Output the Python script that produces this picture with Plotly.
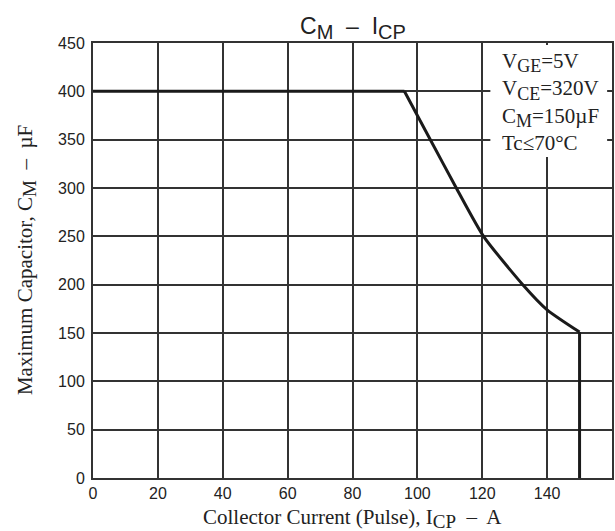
import plotly.graph_objects as go

# Data
curve_x = [0, 96, 104, 112, 120.4, 132.5, 140, 150, 150]
curve_y = [400, 400, 350, 300, 250, 200, 174, 151, 0]

x_ticks = [0, 20, 40, 60, 80, 100, 120, 140, 160]
y_ticks = [0, 50, 100, 150, 200, 250, 300, 350, 400, 450]


def sub(s, px):
    return "<sub><span style='font-size:%dpx'>%s</span></sub>" % (px, s)


title_text = "C" + sub("M", 20) + "  \u2013  I" + sub("CP", 20)
x_title = "Collector Current (Pulse), I" + sub("CP", 19) + "  \u2013  A"
y_title = "Maximum Capacitor, C" + sub("M", 19) + "  \u2013  \u00b5F"
cond_text = ("V" + sub("GE", 18) + "=5V<br>"
             "V" + sub("CE", 18) + "=320V<br>"
             "C" + sub("M", 18) + "=150\u00b5F<br>"
             "Tc\u226470\u00b0C")

GRID = "#333333"
SERIF = "Liberation Serif, Times New Roman, serif"
SANS = "Liberation Sans, Arial, sans-serif"
LINE = dict(color="#1a1a1a", width=3)

fig = go.Figure()
# flat part, curved part, vertical drop
fig.add_trace(go.Scatter(x=curve_x[:2], y=curve_y[:2], mode="lines", line=LINE,
                         showlegend=False, hoverinfo="skip"))
fig.add_trace(go.Scatter(x=curve_x[1:-1], y=curve_y[1:-1], mode="lines",
                         line=dict(color="#1a1a1a", width=3, shape="spline", smoothing=0.6),
                         showlegend=False, hoverinfo="skip"))
fig.add_trace(go.Scatter(x=curve_x[-2:], y=curve_y[-2:], mode="lines", line=LINE,
                         showlegend=False, hoverinfo="skip"))

fig.update_layout(
    width=615, height=531,
    margin=dict(l=93, r=1, t=43, b=53),
    paper_bgcolor="white", plot_bgcolor="white",
    showlegend=False,
)
fig.update_xaxes(range=[0, 160], tickvals=x_ticks, showgrid=True,
                 gridcolor=GRID, gridwidth=1.6, showline=True, mirror=True,
                 linecolor=GRID, linewidth=2, zeroline=False, ticks="",
                 tickfont=dict(family=SANS, size=16, color="#222"))
fig.update_yaxes(range=[0, 450], tickvals=y_ticks, showgrid=True,
                 gridcolor=GRID, gridwidth=1.6, showline=True, mirror=True,
                 linecolor=GRID, linewidth=2, zeroline=False, ticks="",
                 ticklabelstandoff=3,
                 tickfont=dict(family=SANS, size=16, color="#222"))

# White box behind the conditions text
fig.add_shape(type="rect", xref="x", yref="y", x0=122.5, x1=158.5, y0=332, y1=448,
              fillcolor="white", line=dict(width=0), layer="above")

fig.add_annotation(text=cond_text, xref="x", yref="y", x=125.5, y=446,
                   xanchor="left", yanchor="top", align="left", showarrow=False,
                   font=dict(family=SERIF, size=21, color="#222"))

fig.add_annotation(text=title_text, xref="paper", yref="paper", x=0.5, y=1,
                   xanchor="center", yanchor="bottom", showarrow=False, yshift=-2,
                   font=dict(family=SANS, size=23, color="#222"))
fig.add_annotation(text=x_title, xref="paper", yref="paper", x=0.5, y=-0.092,
                   xanchor="center", yanchor="middle", showarrow=False,
                   font=dict(family=SERIF, size=21, color="#222"))
fig.add_annotation(text=y_title, xref="paper", yref="paper", x=-0.128, y=0.5,
                   xanchor="center", yanchor="middle", textangle=-90, showarrow=False,
                   font=dict(family=SERIF, size=21, color="#222"))

fig.write_html("out.html")
